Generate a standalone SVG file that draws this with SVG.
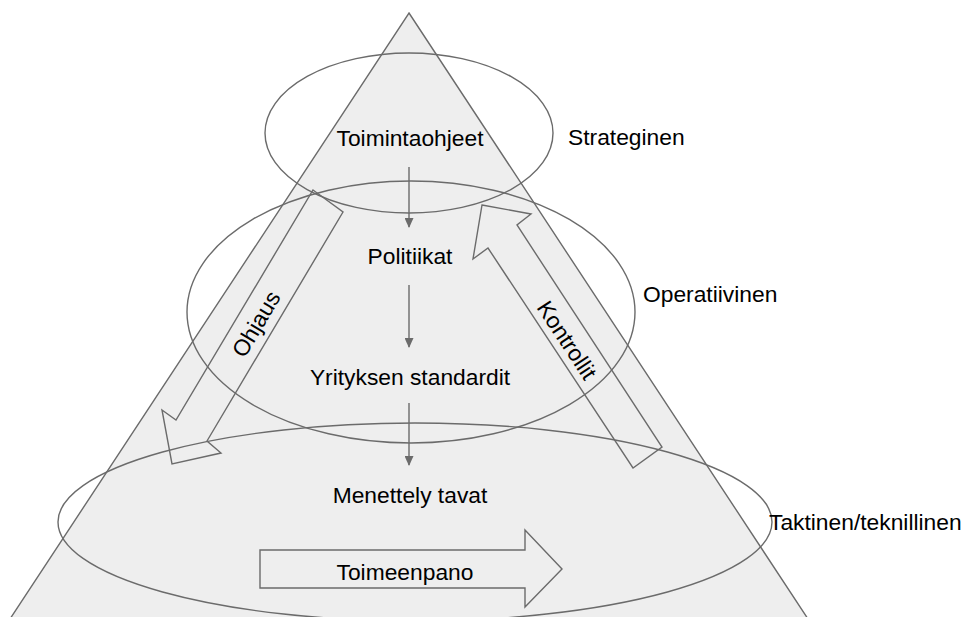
<svg xmlns="http://www.w3.org/2000/svg" width="962" height="617" viewBox="0 0 962 617">
  <style>
    .shape { fill: none; stroke: #6b6b6b; stroke-width: 1.4; }
    .lbl { font-family: "Liberation Sans", Arial, sans-serif; font-size: 22.8px; fill: #000; }
    .mid { text-anchor: middle; }
    .flow { stroke: #6b6b6b; stroke-width: 1.4; fill: none; marker-end: url(#head); }
  </style>
  <defs>
    <marker id="head" viewBox="0 0 10 10" refX="9" refY="5" markerWidth="10" markerHeight="9" markerUnits="userSpaceOnUse" orient="auto" preserveAspectRatio="none">
      <path d="M0,0 L10,5 L0,10 Z" fill="#6b6b6b"/>
    </marker>
  </defs>

  <rect width="962" height="617" fill="#ffffff"/>

  <!-- pyramid background -->
  <g id="pyramid">
    <polygon points="409,13 810,622 8,622" fill="#eeeeee" stroke="#6b6b6b" stroke-width="1.4"/>
  </g>

  <!-- level ellipses -->
  <g id="level-strategic">
    <ellipse class="shape" cx="409" cy="133" rx="144" ry="80"/>
    <text class="lbl" x="568" y="145">Strateginen</text>
  </g>
  <g id="level-operative">
    <ellipse class="shape" cx="411" cy="312" rx="224" ry="131"/>
    <text class="lbl" x="643" y="302">Operatiivinen</text>
  </g>
  <g id="level-tactical">
    <ellipse class="shape" cx="415" cy="522" rx="357" ry="99"/>
    <text class="lbl" x="769" y="530">Taktinen/teknillinen</text>
  </g>

  <!-- block arrows -->
  <g id="ohjaus">
    <polygon class="shape" points="313,190 343,212 207,441 221,453 172,464 162,410 176,420"/>
    <text class="lbl mid" transform="translate(256,324) rotate(-59.2)" y="8">Ohjaus</text>
  </g>
  <g id="kontrollit">
    <polygon class="shape" points="482,205 531,214 517,225 662,447 633,468 488,248 473,259"/>
    <text class="lbl mid" transform="translate(567,340) rotate(56.6)" y="8">Kontrollit</text>
  </g>
  <g id="toimeenpano">
    <polygon class="shape" points="260,550 525,550 525,530 562,569 525,607 525,588 260,588"/>
    <text class="lbl mid" x="405" y="580">Toimeenpano</text>
  </g>

  <!-- hierarchy nodes -->
  <g id="toimintaohjeet">
    <text class="lbl mid" x="410" y="146">Toimintaohjeet</text>
  </g>
  <g id="politiikat">
    <text class="lbl mid" x="410" y="264">Politiikat</text>
  </g>
  <g id="standardit">
    <text class="lbl mid" x="410" y="385">Yrityksen standardit</text>
  </g>
  <g id="menettelytavat">
    <text class="lbl mid" x="410" y="503">Menettely tavat</text>
  </g>

  <!-- connectors -->
  <g id="connectors">
    <line class="flow" x1="409" y1="167" x2="409" y2="227"/>
    <line class="flow" x1="409" y1="285" x2="409" y2="347"/>
    <line class="flow" x1="409" y1="403" x2="409" y2="465"/>
  </g>
</svg>
